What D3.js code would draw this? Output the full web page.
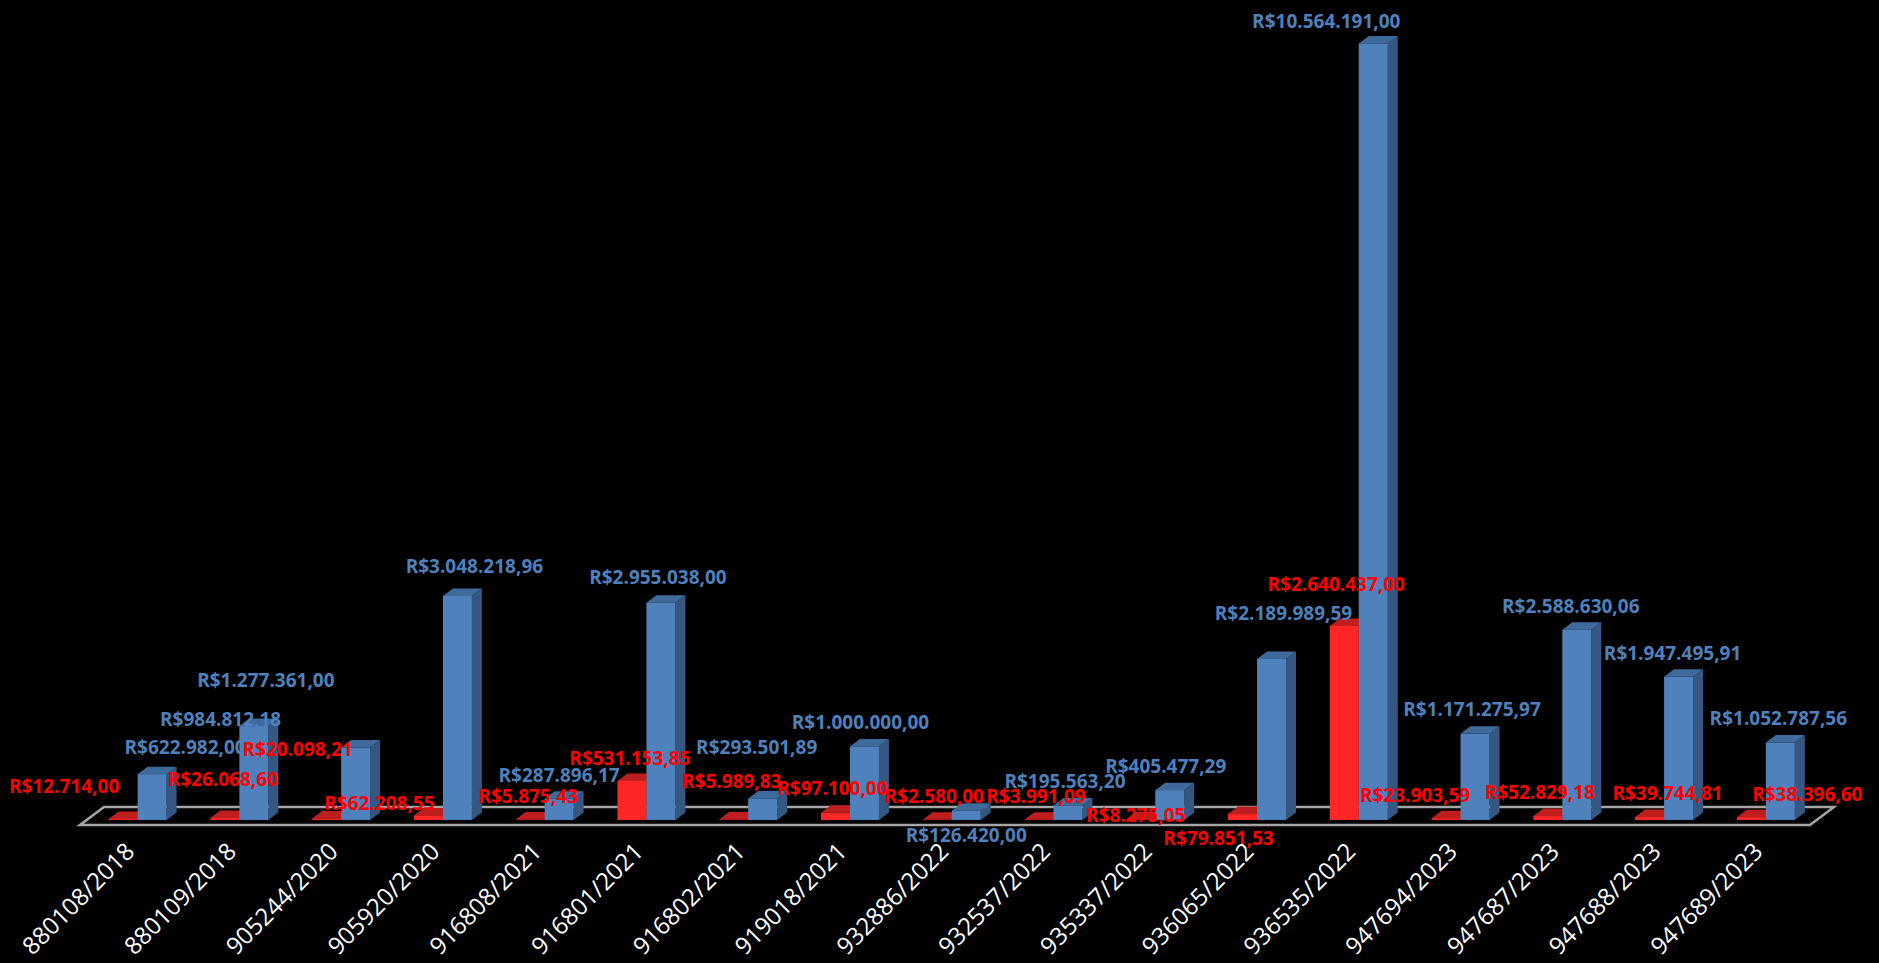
<!DOCTYPE html>
<html>
<head>
<meta charset="utf-8">
<script src="https://cdn.jsdelivr.net/npm/d3@7"></script>
<style>
    html, body { margin: 0; background: #000; }
    svg { display: block; }
</style>
</head>
<body>
<svg id="chart"></svg>
<script>

// processos (eixo das categorias)
const categories = ["880108/2018", "880109/2018", "905244/2020", "905920/2020", "916808/2021", "916801/2021",
    "916802/2021", "919018/2021", "932886/2022", "932537/2022", "935337/2022", "936065/2022", "936535/2022",
    "947694/2023", "947687/2023", "947688/2023", "947689/2023"];

// serie azul
const blueValues = [622982.00, 1277361.00, 984812.18, 3048218.96, 287896.17, 2955038.00, 293501.89, 1000000.00,
    126420.00, 195563.20, 405477.29, 2189989.59, 10564191.00, 1171275.97, 2588630.06, 1947495.91, 1052787.56];

// serie vermelha
const redValues = [12714.00, 26068.60, 20098.21, 62208.55, 5875.43, 531153.85, 5989.83, 97100.00,
    2580.00, 3991.09, 8275.05, 79851.53, 2640437.00, 23903.59, 52829.18, 39744.81, 38396.60];

// etiquetas foram arrastadas a mao no original: deslocamento [dx, dy] de cada uma
const blueLabelShift = [[33, -4], [12, -23], [-135, -5], [17, -7], [0, 0], [-3, -2], [-6, -28], [-4, -1],
    [0, 48], [-3, -1], [-4, -1], [12, -23], [-47, 1], [-3, -2], [-6, 0], [-6, 0], [-2, -1]];
const redLabelShift = [[-59, -10], [-2, -16], [-29, -46], [-49, 11], [-2, 0], [-2, 0], [-2, -15], [-3, -1],
    [-3, 0], [-3, 0], [-5, 19], [-24, 47], [-8, -19], [-31, 0], [-8, -1], [18, -1], [56, 0]];


const width = 1879;
const height = 963;

// piso em perspectiva: borda da frente + vetor de profundidade
const floor = {x0: 80, x1: 1810, y: 825, dx: 24, dy: -18};
const barW = 29;
const depth = {dx: 10, dy: -7.5};
const depthPos = 0.28; // posicao das colunas dentro da profundidade do piso

const colors = {
    blue: {front: "#4f81bd", top: "#3e6a9c", side: "#36577f", text: "#4f81bd"},
    red: {front: "#ff2626", top: "#bf1e1e", side: "#9e1717", text: "#ff0000"}
};

const brl = d3.formatLocale({decimal: ",", thousands: ".", grouping: [3], currency: ["R$", ""]}).format("$,.2f");

const svg = d3.select("#chart")
    .attr("width", width)
    .attr("height", height)
    .style("background", "#000");

const x = d3.scaleBand()
    .domain(categories)
    .range([floor.x0, floor.x1])
    .padding(0);

const offX = floor.dx * depthPos;
const baseY = floor.y + floor.dy * depthPos;

const y = d3.scaleLinear()
    .domain([0, 11000000])
    .range([baseY, baseY - 11 * 73.5]);

// centro da categoria na linha das colunas
const cx = c => x(c) + x.bandwidth() / 2 + offX;

/*
 * piso
 */
svg.append("polygon")
    .attr("points", [
        [floor.x0, floor.y],
        [floor.x1, floor.y],
        [floor.x1 + floor.dx, floor.y + floor.dy],
        [floor.x0 + floor.dx, floor.y + floor.dy]
    ].map(p => p.join(",")).join(" "))
    .attr("fill", "none")
    .attr("stroke", "#a6a6a6")
    .attr("stroke-width", 2.5);

/*
 * colunas: vermelha a esquerda, azul a direita, desenhadas da esquerda para a direita
 */
const bars = [];
categories.forEach((c, i) => {
    bars.push({x0: cx(c) - barW, v: redValues[i], col: colors.red});
    bars.push({x0: cx(c), v: blueValues[i], col: colors.blue});
});

const barG = svg.append("g")
    .selectAll("g")
    .data(bars)
    .join("g");

const pts = arr => arr.map(p => p.join(",")).join(" ");

barG.append("polygon")
    .attr("points", d => {
        const t = y(d.v);
        return pts([[d.x0 + barW, t], [d.x0 + barW + depth.dx, t + depth.dy],
            [d.x0 + barW + depth.dx, baseY + depth.dy], [d.x0 + barW, baseY]]);
    })
    .attr("fill", d => d.col.side);

barG.append("polygon")
    .attr("points", d => {
        const t = y(d.v);
        return pts([[d.x0, t], [d.x0 + barW, t], [d.x0 + barW + depth.dx, t + depth.dy], [d.x0 + depth.dx, t + depth.dy]]);
    })
    .attr("fill", d => d.col.top);

barG.append("rect")
    .attr("x", d => d.x0)
    .attr("y", d => y(d.v))
    .attr("width", barW)
    .attr("height", d => baseY - y(d.v))
    .attr("fill", d => d.col.front);

/*
 * etiquetas de dados
 */
const labelFont = "'Open Sans', 'DejaVu Sans', sans-serif";

svg.append("g")
    .selectAll("text")
    .data(categories)
    .join("text")
        .attr("x", (c, i) => cx(c) + barW / 2 + blueLabelShift[i][0])
        .attr("y", (c, i) => y(blueValues[i]) - 23 + blueLabelShift[i][1])
        .attr("dy", "0.35em")
        .attr("text-anchor", "middle")
        .attr("font-family", labelFont)
        .attr("font-weight", "bold")
        .attr("font-size", 19)
        .attr("fill", colors.blue.text)
    .text((c, i) => brl(blueValues[i]));

svg.append("g")
    .selectAll("text")
    .data(categories)
    .join("text")
        .attr("x", (c, i) => cx(c) - barW / 2 + redLabelShift[i][0])
        .attr("y", (c, i) => y(redValues[i]) - 23 + redLabelShift[i][1])
        .attr("dy", "0.35em")
        .attr("text-anchor", "middle")
        .attr("font-family", labelFont)
        .attr("font-weight", "bold")
        .attr("font-size", 19)
        .attr("fill", colors.red.text)
    .text((c, i) => brl(redValues[i]));

/*
 * eixo das categorias (rotulos inclinados)
 */
svg.append("g")
    .selectAll("text")
    .data(categories)
    .join("text")
        .attr("transform", c => `translate(${x(c) + x.bandwidth() / 2 + 5},853) rotate(-45)`)
        .attr("text-anchor", "end")
        .attr("font-family", labelFont)
        .attr("font-size", 24)
        .attr("fill", "#fff")
    .text(c => c);

</script>
</body>
</html>
